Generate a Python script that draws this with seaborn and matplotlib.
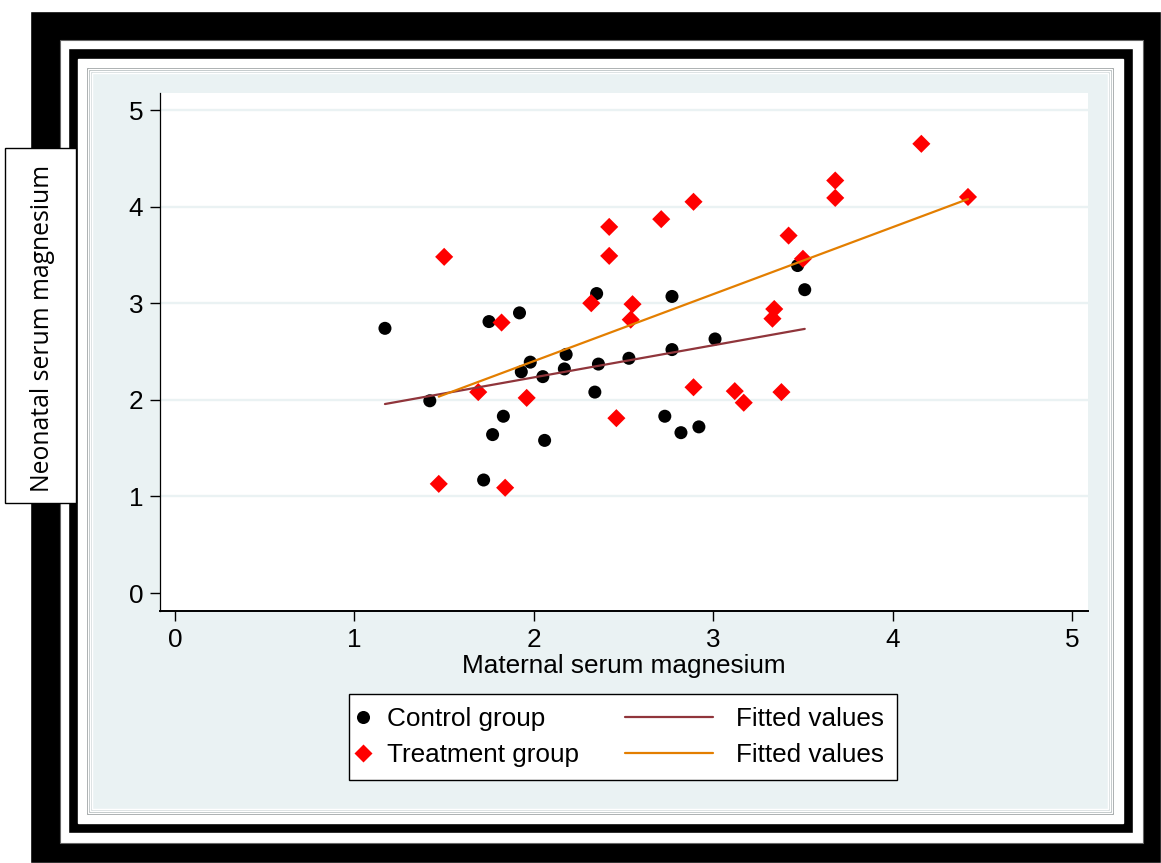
import numpy as np
import pandas as pd
import seaborn as sns
import matplotlib.pyplot as plt
from matplotlib.patches import Rectangle
from matplotlib.lines import Line2D
from matplotlib.legend_handler import HandlerLine2D

# Data
ctrl_x = [1.17, 1.42, 1.72, 1.75, 1.77, 1.83, 1.92, 1.93, 1.98, 2.05, 2.06, 2.17, 2.18,
          2.34, 2.35, 2.36, 2.53, 2.73, 2.77, 2.77, 2.82, 2.92, 3.01, 3.47, 3.51]
ctrl_y = [2.74, 1.99, 1.17, 2.81, 1.64, 1.83, 2.90, 2.29, 2.39, 2.24, 1.58, 2.32, 2.47,
          2.08, 3.10, 2.37, 2.43, 1.83, 3.07, 2.52, 1.66, 1.72, 2.63, 3.39, 3.14]
trt_x = [1.47, 1.50, 1.69, 1.82, 1.84, 1.96, 2.32, 2.42, 2.42, 2.46, 2.54, 2.55, 2.71,
         2.89, 2.89, 3.12, 3.17, 3.33, 3.34, 3.38, 3.42, 3.50, 3.68, 3.68, 4.16, 4.42]
trt_y = [1.13, 3.48, 2.08, 2.80, 1.09, 2.02, 3.00, 3.79, 3.49, 1.81, 2.83, 2.99, 3.87,
         4.05, 2.13, 2.09, 1.97, 2.84, 2.94, 2.08, 3.70, 3.46, 4.27, 4.09, 4.65, 4.10]
ticks = [0, 1, 2, 3, 4, 5]
group_labels = ["Control group", "Treatment group", "Fitted values", "Fitted values"]

ctrl = pd.DataFrame({"maternal": ctrl_x, "neonatal": ctrl_y})
trt = pd.DataFrame({"maternal": trt_x, "neonatal": trt_y})

sns.set_style("white")
plt.rcParams["font.family"] = ["Liberation Sans", "DejaVu Sans"]
plt.rcParams["text.color"] = "black"
plt.rcParams["axes.labelcolor"] = "black"
plt.rcParams["xtick.color"] = "black"
plt.rcParams["ytick.color"] = "black"

W, H = 1161, 863
fig = plt.figure(figsize=(W / 100, H / 100), dpi=100)


def box(x0, y0, x1, y1, color, z=-10, **kw):
    # rectangle given in pixel coords measured from the top-left corner
    fig.add_artist(Rectangle((x0 / W, 1 - y1 / H), (x1 - x0) / W, (y1 - y0) / H,
                             transform=fig.transFigure, facecolor=color,
                             zorder=z, **kw))


# picture frame around the graph
box(30, 11, 1161, 863, "black", -20)
box(60, 40, 1143, 843, "white", -19, edgecolor="#666666", lw=0.8)
box(68, 48, 1133, 833, "black", -18)
box(78, 59, 1123, 823, "white", -17)
# bevelled light blue panel
box(86, 67, 1114, 815, "#858b8c", -16)
box(88, 69, 1112, 813, "#a9b1b2", -15)
box(90, 71, 1110, 811, "#cdd5d6", -14)
box(92, 73, 1108, 809, "#EAF2F3", -13)

ax = fig.add_axes([160 / W, 1 - 611 / H, (1088 - 160) / W, (611 - 93) / H])
ax.set_facecolor("white")

sns.scatterplot(data=ctrl, x="maternal", y="neonatal", ax=ax, color="black",
                marker="o", s=88, edgecolor="none", zorder=3, legend=False)
sns.scatterplot(data=trt, x="maternal", y="neonatal", ax=ax, color="#FF0000",
                marker="D", s=85, edgecolor="none", zorder=4, legend=False)
sns.regplot(data=ctrl, x="maternal", y="neonatal", ax=ax, scatter=False, ci=None,
            truncate=True, line_kws=dict(color="#90353B", lw=1.6, zorder=5))
sns.regplot(data=trt, x="maternal", y="neonatal", ax=ax, scatter=False, ci=None,
            truncate=True, line_kws=dict(color="#E37E00", lw=1.6, zorder=6))

ax.set_xlim(-0.084, 5.089)
ax.set_ylim(-0.186, 5.176)
ax.set_xticks(ticks)
ax.set_yticks(ticks)
ax.tick_params(axis="both", direction="out", length=7, width=1, color="black",
               labelsize=18.8, labelcolor="black", bottom=True, left=True)
ax.tick_params(axis="x", pad=5.5)
ax.tick_params(axis="y", pad=5)
ax.yaxis.grid(True, color="#EAF2F3", lw=1.7)
ax.xaxis.grid(False)
ax.get_ygridlines()[0].set_visible(False)
for side in ["top", "right"]:
    ax.spines[side].set_visible(False)
ax.spines["left"].set_color("black")
ax.spines["left"].set_linewidth(0.9)
ax.spines["bottom"].set_color("black")
ax.spines["bottom"].set_linewidth(1.4)
ax.set_xlabel("Maternal serum magnesium", fontsize=18.8, labelpad=1, color="black")
ax.set_ylabel("")


class LongLine(HandlerLine2D):
    # line handles reach further left than the marker handles
    def get_xdata(self, legend, xdescent, ydescent, width, height, fontsize):
        xd, xm = super().get_xdata(legend, xdescent, ydescent, width, height, fontsize)
        return [-xdescent - 3.3 * fontsize, -xdescent + width], xm


h_ctrl = Line2D([], [], ls="none", marker="o", color="black", markersize=9.4, mec="none")
h_trt = Line2D([], [], ls="none", marker="D", color="#FF0000", markersize=9.0, mec="none")
h_fc = Line2D([], [], color="#90353B", lw=1.6)
h_ft = Line2D([], [], color="#E37E00", lw=1.6)
leg = ax.legend([h_ctrl, h_trt, h_fc, h_ft], group_labels, ncol=2,
                loc="upper left", bbox_to_anchor=(349 / W, 1 - 694 / H),
                bbox_transform=fig.transFigure, borderaxespad=0,
                fontsize=18.8, frameon=True, fancybox=False, framealpha=1,
                edgecolor="black", borderpad=0.5, handlelength=0.1,
                handletextpad=0.85, columnspacing=5.05, labelspacing=0.47,
                handler_map={h_fc: LongLine(), h_ft: LongLine()})
leg.get_frame().set_linewidth(1.0)
for t in leg.get_texts():
    t.set_color("black")

# y title sits in a separate white text box on the left
box(5, 148, 76, 503, "white", 5, edgecolor="black", lw=1.0)
fig.text(43 / W, 1 - 328 / H, "Neonatal serum magnesium", rotation=90,
         ha="center", va="center", fontsize=17.8, color="black",
         family=["Open Sans", "DejaVu Sans"], zorder=6)

plt.savefig("out.png", dpi=100)
